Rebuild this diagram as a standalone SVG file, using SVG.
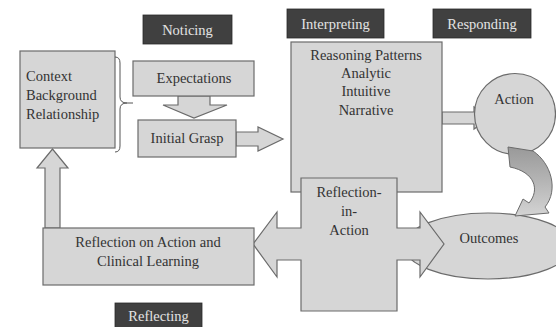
<svg xmlns="http://www.w3.org/2000/svg" width="556" height="327" viewBox="0 0 556 327" font-family="'Liberation Serif', 'Times New Roman', 'DejaVu Serif', serif">
<style>
.box{fill:#d6d6d6;stroke:#6b6b6b;stroke-width:1.2}
.lbl{fill:#404040;stroke:#2a2a2a;stroke-width:0.8}
text{font-family:'Liberation Serif','Times New Roman','DejaVu Serif',serif;font-size:14.5px}
.lt{fill:#e4e4e4;text-anchor:middle}
.t{fill:#333;text-anchor:middle}
.tl{fill:#333}
</style>
<defs>
<linearGradient id="cg" x1="0" y1="0" x2="0" y2="1">
<stop offset="0" stop-color="#999"/>
<stop offset="0.5" stop-color="#b5b5b5"/>
<stop offset="1" stop-color="#d4d4d4"/>
</linearGradient>
</defs>
<rect width="556" height="327" fill="#fff"/>

<g id="context">
<rect class="box" x="20" y="51" width="95" height="97"/>
<text class="tl" x="26" y="81">Context</text>
<text class="tl" x="26" y="100">Background</text>
<text class="tl" x="26" y="119">Relationship</text>
</g>

<g id="connectors">
<path d="M115,57 Q120,57 120,63 L120,97 Q120,103 127,103 L133,103 M127,103 Q120,103 120,109 L120,146 Q120,152 115,152" fill="none" stroke="#555" stroke-width="1"/>
<polygon class="box" points="178,96 210,96 210,105 227,105 194,118 163,105 178,105"/>
<polygon class="box" points="236,132 258,132 258,127 283,139 258,151 258,146 236,146"/>
<polygon class="box" points="442,112 474,112 474,107 490,118 474,129 474,124 442,124"/>
<polygon class="box" points="45,228 45,168 37,168 52.5,149 68,168 60,168 60,228"/>
</g>

<g id="expectations">
<rect class="box" x="133" y="61" width="121" height="35"/>
<text class="t" x="194" y="83">Expectations</text>
</g>

<g id="initial-grasp">
<rect class="box" x="138" y="120" width="98" height="37"/>
<text class="t" x="187" y="143">Initial Grasp</text>
</g>

<g id="reasoning">
<rect class="box" x="291" y="42" width="151" height="150"/>
<text class="t" x="366" y="60">Reasoning Patterns</text>
<text class="t" x="366" y="78">Analytic</text>
<text class="t" x="366" y="96">Intuitive</text>
<text class="t" x="366" y="115">Narrative</text>
</g>

<g id="action">
<circle class="box" cx="515" cy="114" r="40.5"/>
<text class="t" x="514" y="104">Action</text>
</g>

<g id="outcomes">
<ellipse class="box" cx="488" cy="246" rx="84" ry="33"/>
<text class="t" x="489" y="243">Outcomes</text>
</g>

<g id="curved-arrow">
<path d="M508,147 L533,151 C551,163 559,190 545,207 L549,213 L515,216 L523,199 L529,203 C540,190 535,172 510,167 Z" fill="url(#cg)" stroke="#6b6b6b" stroke-width="1"/>
</g>

<g id="reflection-in-action">
<polygon class="box" points="301,178 397,178 397,228 420,228 420,212 444,244 420,277 420,260 397,260 397,311 301,311 301,260 277,260 277,277 253,244 277,212 277,228 301,228"/>
<text class="t" x="349" y="197">Reflection-</text>
<text class="t" x="349" y="216">in-</text>
<text class="t" x="349" y="235">Action</text>
</g>

<g id="reflection-on-action">
<rect class="box" x="43" y="228" width="211" height="57"/>
<text class="t" x="148" y="247">Reflection on Action and</text>
<text class="t" x="148" y="266">Clinical Learning</text>
</g>

<g id="label-noticing">
<rect class="lbl" x="143" y="15" width="89" height="29"/>
<text class="lt" x="187.5" y="35">Noticing</text>
</g>
<g id="label-interpreting">
<rect class="lbl" x="287" y="9" width="97" height="29"/>
<text class="lt" x="335.5" y="29">Interpreting</text>
</g>
<g id="label-responding">
<rect class="lbl" x="433" y="9" width="98" height="29"/>
<text class="lt" x="482" y="29">Responding</text>
</g>
<g id="label-reflecting">
<rect class="lbl" x="115" y="303" width="87" height="26"/>
<text class="lt" x="158.5" y="321">Reflecting</text>
</g>
</svg>
